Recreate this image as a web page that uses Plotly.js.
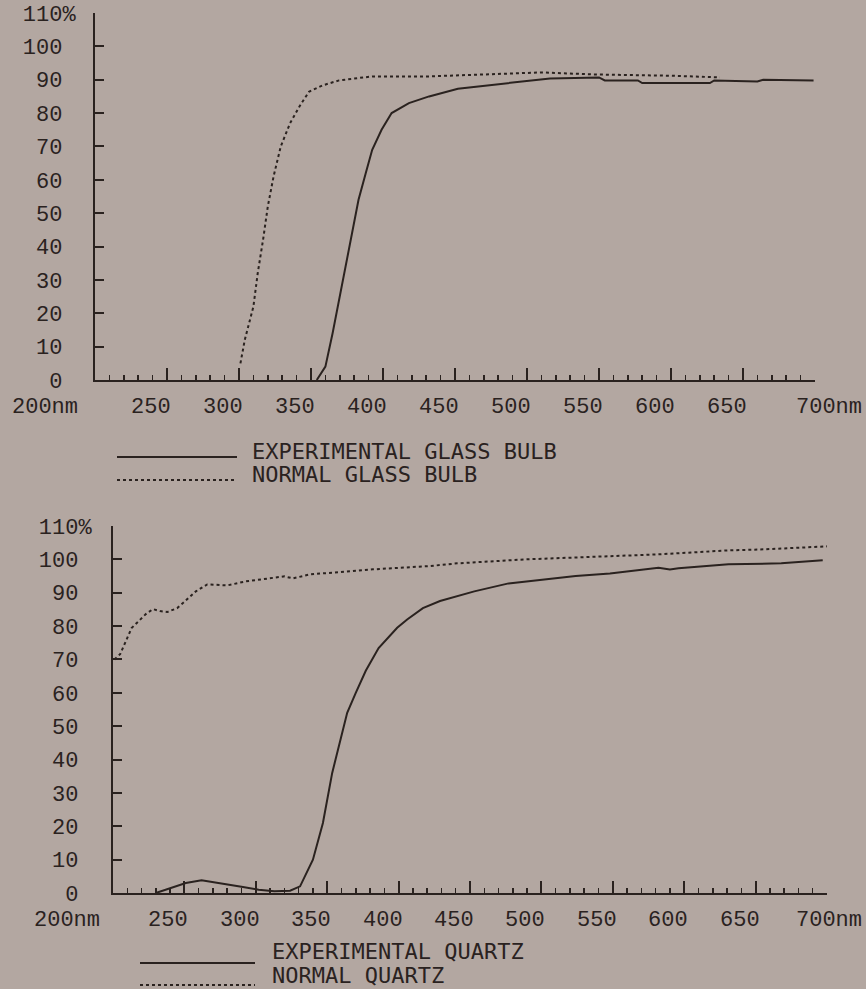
<!DOCTYPE html>
<html>
<head>
<meta charset="utf-8">
<script src="https://cdn.plot.ly/plotly-3.0.1.min.js"></script>
<style>
html,body{margin:0;padding:0;background:#b3a7a1;}
#chart{width:866px;height:989px;}
</style>
</head>
<body>
<div id="chart"></div>
<script>
// ---- Data ----
const xTickVals = [200, 250, 300, 350, 400, 450, 500, 550, 600, 650, 700];
const xTickText = ['200nm', '250', '300', '350', '400', '450', '500', '550', '600', '650', '700nm'];
const yTickVals = [0, 10, 20, 30, 40, 50, 60, 70, 80, 90, 100, 110];
const yTickText = ['0', '10', '20', '30', '40', '50', '60', '70', '80', '90', '100', '110%'];

// Top panel: glass bulbs
const glassExpNm = [354, 360, 365, 369.5, 374, 378.5, 383, 388, 392.5, 399, 406, 418, 432, 452, 476, 499, 516, 550, 554, 577, 580, 627, 630, 660, 664, 699];
const glassExpT  = [0, 4, 14, 24, 34, 44, 54, 62, 69, 75, 80, 83, 85, 87.3, 88.5, 89.5, 90.4, 90.7, 89.8, 89.8, 89, 89, 89.8, 89.5, 90, 89.8];

const glassNormNm = [301, 304, 310, 313, 316.7, 320, 324, 329, 335.5, 342, 348.6, 358, 369.5, 392.6, 432, 476, 510.5, 545, 600, 634];
const glassNormT  = [5, 12, 22, 32, 42, 52, 61, 70, 77, 82, 86.4, 88.3, 89.8, 91, 91, 91.6, 92.2, 91.6, 91.2, 90.7];

// Bottom panel: quartz
const quartzExpNm = [230, 243, 251, 262, 270, 280, 291, 302, 313, 324, 331, 340, 347, 353.5, 358, 364, 370, 377, 386, 394, 399, 406, 417, 429, 453, 477, 501, 524, 548, 572, 582, 590, 596, 631, 668, 697];
const quartzExpT  = [0, 2, 3, 3.8, 3.3, 2.5, 1.8, 1, 0.5, 0.7, 2, 10, 21, 36, 44, 54, 60, 66.6, 73.4, 77, 79.5, 82, 85.4, 87.5, 90.4, 92.8, 94, 95, 95.8, 97, 97.5, 97, 97.3, 98.5, 98.8, 99.7];

const quartzNormNm = [201, 205, 209, 213, 218, 223, 228, 233, 238, 245, 249, 258, 266, 280, 293, 309, 320, 326, 338, 347, 382, 422, 441, 489, 541, 582, 631, 656, 700];
const quartzNormT  = [70, 71.6, 75.5, 79.4, 81.5, 83.6, 85.1, 84.5, 84.2, 85.4, 86.9, 90.4, 92.5, 92.2, 93.4, 94.3, 94.9, 94.3, 95.5, 95.8, 97, 98, 98.8, 100, 100.9, 101.5, 102.7, 103, 103.9];

const legendTop = ['EXPERIMENTAL GLASS BULB', 'NORMAL GLASS BULB'];
const legendBottom = ['EXPERIMENTAL QUARTZ', 'NORMAL QUARTZ'];

// ---- Styling ----
const INK = '#2a221f';
const W = 866, H = 989;
const px = v => v / W;
const py = v => 1 - v / H;
const tickFont = {family: '"Liberation Mono", "DejaVu Sans Mono", monospace', size: 22, color: INK};
const legFont = {family: '"DejaVu Sans Mono", monospace', size: 22, color: INK};

const nb = '\u00a0';
const yText = yTickText.map(t => t.endsWith('%') ? t : t + nb);

function xAxis(domain, anchor) {
  return {
    domain: domain, anchor: anchor, range: [200, 700],
    showline: true, linecolor: INK, linewidth: 2,
    ticks: 'inside', ticklen: 12, tickwidth: 2, tickcolor: INK,
    tickvals: xTickVals, showticklabels: false,
    minor: {dtick: 10, tick0: 200, ticks: 'inside', ticklen: 5, tickwidth: 1.5, tickcolor: INK},
    showgrid: false, zeroline: false, fixedrange: true
  };
}
function yAxis(domain, anchor, standoff) {
  return {
    domain: domain, anchor: anchor, range: [0, 110],
    showline: true, linecolor: INK, linewidth: 2,
    ticks: 'inside', ticklen: 9, tickwidth: 2, tickcolor: INK,
    tickvals: yTickVals, ticktext: yText, tickfont: tickFont,
    ticklabelstandoff: standoff,
    showgrid: false, zeroline: false, fixedrange: true
  };
}

const solid = {color: INK, width: 2, dash: 'solid'};
const dotted = {color: INK, width: 2, dash: 'dot'};

const traces = [
  {x: glassExpNm, y: glassExpT, xaxis: 'x', yaxis: 'y', mode: 'lines', line: solid, name: legendTop[0]},
  {x: glassNormNm, y: glassNormT, xaxis: 'x', yaxis: 'y', mode: 'lines', line: dotted, name: legendTop[1]},
  {x: quartzExpNm, y: quartzExpT, xaxis: 'x2', yaxis: 'y2', mode: 'lines', line: solid, name: legendBottom[0]},
  {x: quartzNormNm, y: quartzNormT, xaxis: 'x2', yaxis: 'y2', mode: 'lines', line: dotted, name: legendBottom[1]}
];

// X tick labels as annotations (the printed labels are offset from their ticks)
const annotations = [];
function addXLabels(xref, yref, lastShift) {
  xTickVals.forEach((v, i) => {
    let shift = -16;
    if (i === 0) shift = xref === 'x' ? -50 : -46;
    if (i === xTickVals.length - 1) shift = lastShift;
    annotations.push({
      x: v, xref: xref, y: 0, yref: yref + ' domain',
      text: xTickText[i], showarrow: false,
      xanchor: 'center', yanchor: 'top', yshift: -13, xshift: shift,
      font: tickFont
    });
  });
}
addXLabels('x', 'y', 14);
addXLabels('x2', 'y2', 2);

// Legend blocks (drawn as line samples + text)
const shapes = [];
function addLegend(names, x0, x1, lineYs, textX, textYs) {
  names.forEach((n, i) => {
    shapes.push({type: 'line', xref: 'paper', yref: 'paper',
      x0: px(x0), x1: px(x1), y0: py(lineYs[i]), y1: py(lineYs[i]),
      line: i === 0 ? {color: INK, width: 2} : {color: INK, width: 2, dash: 'dot'}});
    annotations.push({xref: 'paper', yref: 'paper', x: px(textX), y: py(textYs[i]),
      xanchor: 'left', yanchor: 'middle', text: n, showarrow: false, font: legFont});
  });
}
addLegend(legendTop, 117, 237, [457, 480], 250, [451, 474]);
addLegend(legendBottom, 140, 255, [963, 985], 270, [951, 975]);

const layout = {
  width: W, height: H,
  margin: {l: 0, r: 0, t: 0, b: 0},
  paper_bgcolor: '#b3a7a1', plot_bgcolor: 'rgba(0,0,0,0)',
  showlegend: false,
  xaxis: xAxis([px(95), px(815)], 'y'),
  yaxis: yAxis([py(380), py(13)], 'x', 13),
  xaxis2: xAxis([px(113), px(827)], 'y2'),
  yaxis2: yAxis([py(893), py(526)], 'x2', 15),
  annotations: annotations,
  shapes: shapes
};

Plotly.newPlot('chart', traces, layout, {staticPlot: true, displayModeBar: false});
</script>
</body>
</html>
